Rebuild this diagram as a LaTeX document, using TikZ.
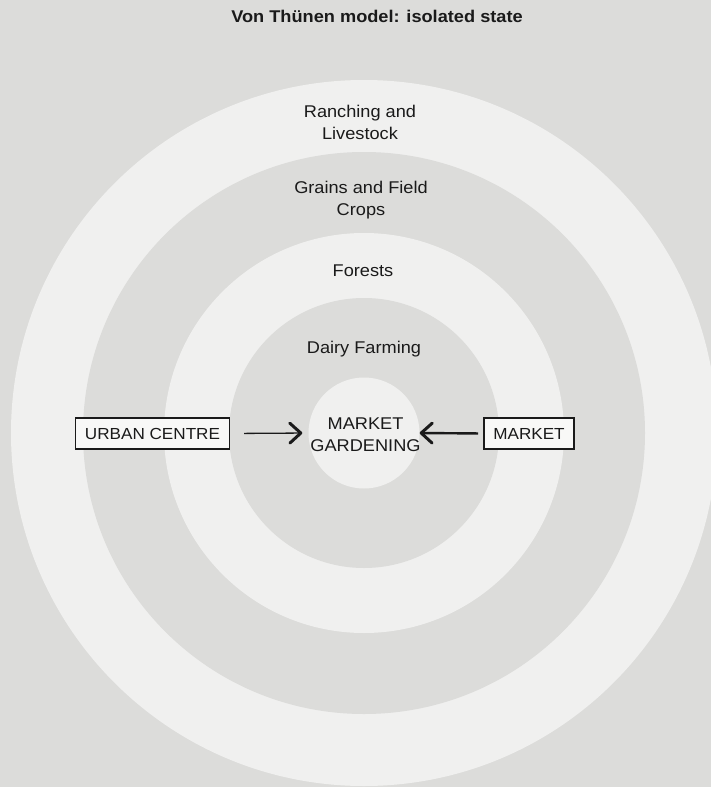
\documentclass[tikz,border=0pt]{standalone}
\usepackage{fontspec}
\setmainfont[FakeStretch=1.07]{Liberation Sans}
\usetikzlibrary{arrows.meta}
\definecolor{bg}{HTML}{DCDCDA}
\definecolor{lt}{HTML}{F0F0EF}
\definecolor{ink}{HTML}{1A1A1A}
\begin{document}
\begin{tikzpicture}[x=1pt,y=-1pt,
  zone/.style={font=\fontsize{17}{22}\selectfont, align=center, text=ink, inner sep=0pt},
  cbox/.style={draw=ink, line width=1.4pt, fill=lt!50!white, font=\fontsize{16}{19}\selectfont,
    minimum height=31pt, inner xsep=9.5pt, text=ink},
  arr/.style={draw=ink, -{Straight Barb[length=11pt,width=20pt,line width=3pt,round]}}
]
\fill[bg] (0,0) rectangle (711,787);
\useasboundingbox (0,0) rectangle (711,787);
\begin{scope}
  \clip (0,0) rectangle (711,787);
  \fill[lt] (364,433) circle (353);
  \fill[bg] (364,433) circle (281);
  \fill[lt] (364,433) circle (200);
  \fill[bg] (364,433) circle (135);
\end{scope}
\node[circle, fill=lt, minimum size=111pt, inner sep=0pt] (mg) at (364,433) {};
\node[zone] (mgt) at (365.5,434.5) {MARKET\\GARDENING};

\node[font=\bfseries\fontsize{17}{20}\selectfont, text=ink] (title) at (377,16) {Von Thünen model: isolated state};

\node[zone] (ranch) at (360,122) {Ranching and\\Livestock};
\node[zone] (grains) at (361,200) {Grains and Field\\Crops};
\node[zone] (forests) at (363,271) {Forests};
\node[zone] (dairy) at (364,349.6) {Dairy Farming};

\node[cbox] (urban) at (152.5,433.5) {URBAN CENTRE};
\node[cbox] (market) at (529,433.5) {MARKET};

\draw[arr, line width=1.3pt, shorten <=14pt, shorten >=6pt] (urban.east) -- (mg.west);
\draw[arr, line width=2.4pt, shorten <=5pt, shorten >=0pt] (market.west) -- (mg.east);
\end{tikzpicture}
\end{document}
